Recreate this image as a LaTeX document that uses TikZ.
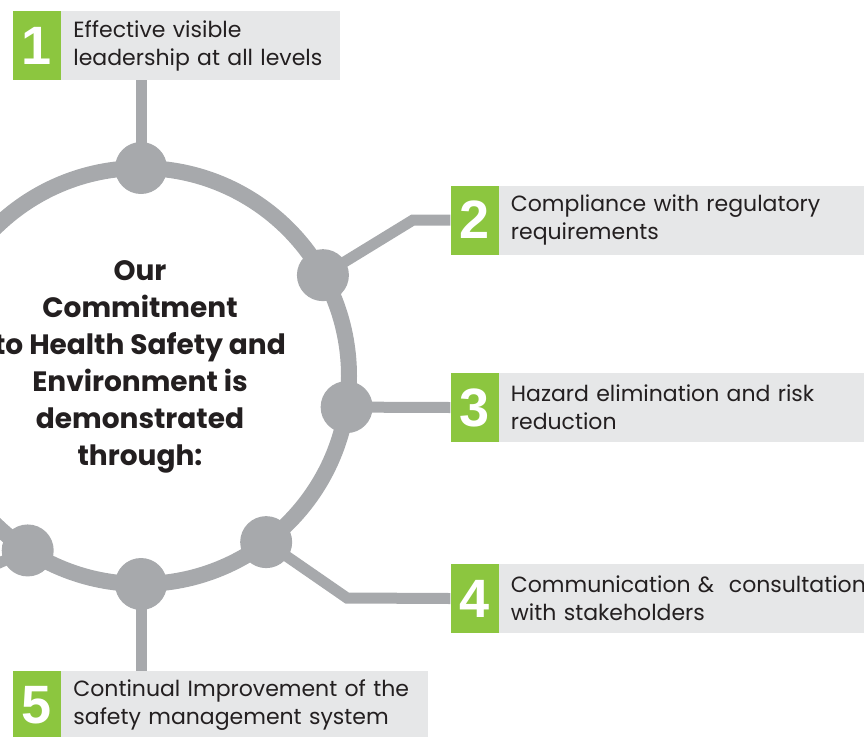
\documentclass[tikz,border=0pt]{standalone}
\usepackage{fontspec}
\setmainfont{Poppins}
\newfontfamily\numfont{Liberation Sans}
\usetikzlibrary{positioning}

\definecolor{leafgreen}{HTML}{8CC63F}
\definecolor{boxgray}{HTML}{E6E7E8}
\definecolor{ringgray}{HTML}{A7A9AC}
\definecolor{inkgray}{HTML}{231F20}

\tikzset{
    numbox/.style={fill=leafgreen, text=white, minimum width=48pt, minimum height=69pt, inner sep=0pt, font=\numfont\bfseries\fontsize{54}{54}\selectfont},
    textbox/.style={fill=boxgray, text=inkgray, minimum height=69pt, inner xsep=12pt, inner ysep=0pt, text width=#1, align=left, font=\fontsize{22}{28}\selectfont},
    dot/.style={circle, fill=ringgray, minimum size=52pt, inner sep=0pt},
    link/.style={draw=ringgray, line width=11pt},
}

\begin{document}
\begin{tikzpicture}[x=1pt, y=-1pt]

    \useasboundingbox (0,0) rectangle (864,736);
    \clip (0,0) rectangle (864,736);

    \coordinate (ctr) at (141,376);
    \draw[ringgray, line width=16pt] (ctr) circle (208pt);

    \foreach \name/\ang in {d1/-90, d2/-29, d3/8.6, d4/53, d5/90, d6/123}
        \node[dot] (\name) at ([shift={(\ang:208)}]ctr) {};

    \node[align=center, text=inkgray, font=\bfseries\fontsize{28}{37}\selectfont] (title) at (140,367)
        {Our\\Commitment\\to Health Safety and\\Environment is\\demonstrated\\through:};

    \node[numbox] (n1) at (37,45.5) {1};
    \node[textbox=255pt, right=0pt of n1] (b1) {Effective visible\\leadership at all levels};

    \node[numbox] (n2) at (474.5,220) {2};
    \node[textbox=420pt, right=0pt of n2] (b2) {Compliance with regulatory\\requirements};

    \node[numbox] (n3) at (474.5,407.5) {3};
    \node[textbox=420pt, right=0pt of n3] (b3) {Hazard elimination and risk\\reduction};

    \node[numbox] (n4) at (474.5,598.5) {4};
    \node[textbox=420pt, right=0pt of n4] (b4) {Communication \&~ consultation\\with stakeholders};

    \node[numbox] (n5) at (37,705.5) {5};
    \node[textbox=343pt, right=0pt of n5] (b5) {Continual Improvement of the\\safety management system};

    \coordinate (k2) at (413,220);
    \coordinate (k4) at (347,598);
    \coordinate (k6) at (-40,580);

    \draw[link] (d1.center) -- (d1.center |- b1.south);
    \draw[link] (d2.center) -- (k2) -- (n2.west);
    \draw[link] (d3.center) -- (n3.west);
    \draw[link] (d4.center) -- (k4) -- (n4.west);
    \draw[link] (d5.center) -- (d5.center |- b5.north);
    \draw[link] (d6.center) -- (k6);

\end{tikzpicture}
\end{document}
